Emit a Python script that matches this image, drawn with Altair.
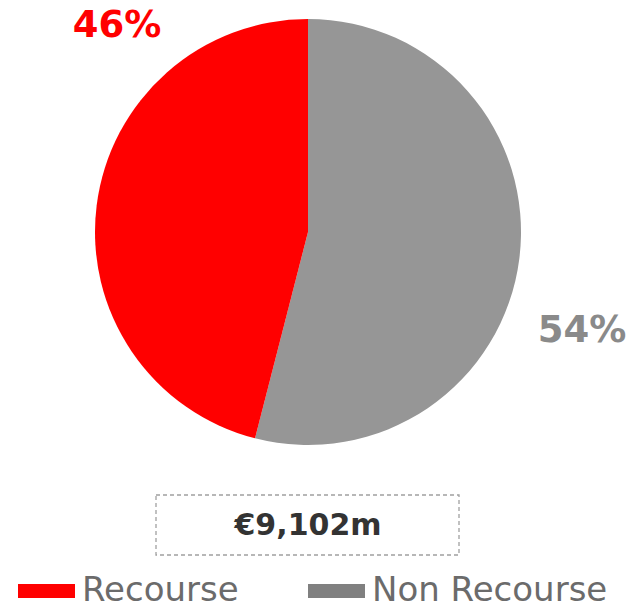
import altair as alt
import pandas as pd

categories = ["Non Recourse", "Recourse"]
shares = [54, 46]
colors = ["#969696", "#ff0000"]
legend_order = ["Recourse", "Non Recourse"]
legend_colors = ["#ff0000", "#808080"]
total_label = "€9,102m"

df = pd.DataFrame({"category": categories, "share": shares, "order": [0, 1]})

color_scale = alt.Scale(domain=categories, range=colors)

pie = alt.Chart(df).mark_arc(radius=213, stroke=None).encode(
    theta=alt.Theta("share:Q", stack=True),
    order=alt.Order("order:Q"),
    color=alt.Color("category:N", scale=color_scale, legend=None),
    x=alt.value(308),
    y=alt.value(232),
)

lab_df = pd.DataFrame({"category": categories, "label": [f"{s}%" for s in shares]})

lab_red = alt.Chart(lab_df).transform_filter(alt.datum.category == "Recourse").mark_text(
    font="DejaVu Sans", fontWeight="bold", fontSize=37, color="#ff0000",
    align="center", baseline="middle"
).encode(text="label:N", x=alt.value(117), y=alt.value(26))

lab_gray = alt.Chart(lab_df).transform_filter(alt.datum.category == "Non Recourse").mark_text(
    font="DejaVu Sans", fontWeight="bold", fontSize=37, color="#8a8a8a",
    align="center", baseline="middle"
).encode(text="label:N", x=alt.value(582), y=alt.value(331))

box = alt.Chart(pd.DataFrame({"t": [total_label]})).mark_rect(
    fill=None, stroke="#a0a0a0", strokeWidth=1.3, strokeDash=[4, 3]
).encode(x=alt.value(156), x2=alt.value(459), y=alt.value(495), y2=alt.value(555))

total = alt.Chart(pd.DataFrame({"t": [total_label]})).mark_text(
    font="DejaVu Sans", fontWeight="bold", fontSize=30, color="#333333",
    align="center", baseline="middle"
).encode(text="t:N", x=alt.value(308), y=alt.value(526))

leg_df = pd.DataFrame({"name": legend_order, "col": legend_colors})

legend_layers = []
for i, (x0, x1) in enumerate([(18, 75), (308, 365)]):
    base = alt.Chart(leg_df).transform_filter(alt.datum.name == legend_order[i])
    legend_layers.append(
        base.mark_rect(color=legend_colors[i]).encode(
            x=alt.value(x0), x2=alt.value(x1), y=alt.value(584), y2=alt.value(598)
        )
    )
    legend_layers.append(
        base.mark_text(
            font="DejaVu Sans", fontSize=34, color="#6b6b6b", align="left", baseline="middle"
        ).encode(text="name:N", x=alt.value(x1 + 7), y=alt.value(591))
    )

chart = alt.layer(pie, lab_red, lab_gray, box, total, *legend_layers).properties(
    width=635, height=610, autosize=alt.AutoSizeParams(type="none"), padding=0
).configure_view(stroke=None)

chart.save("out.html", embed_options={"renderer": "svg", "actions": False})
